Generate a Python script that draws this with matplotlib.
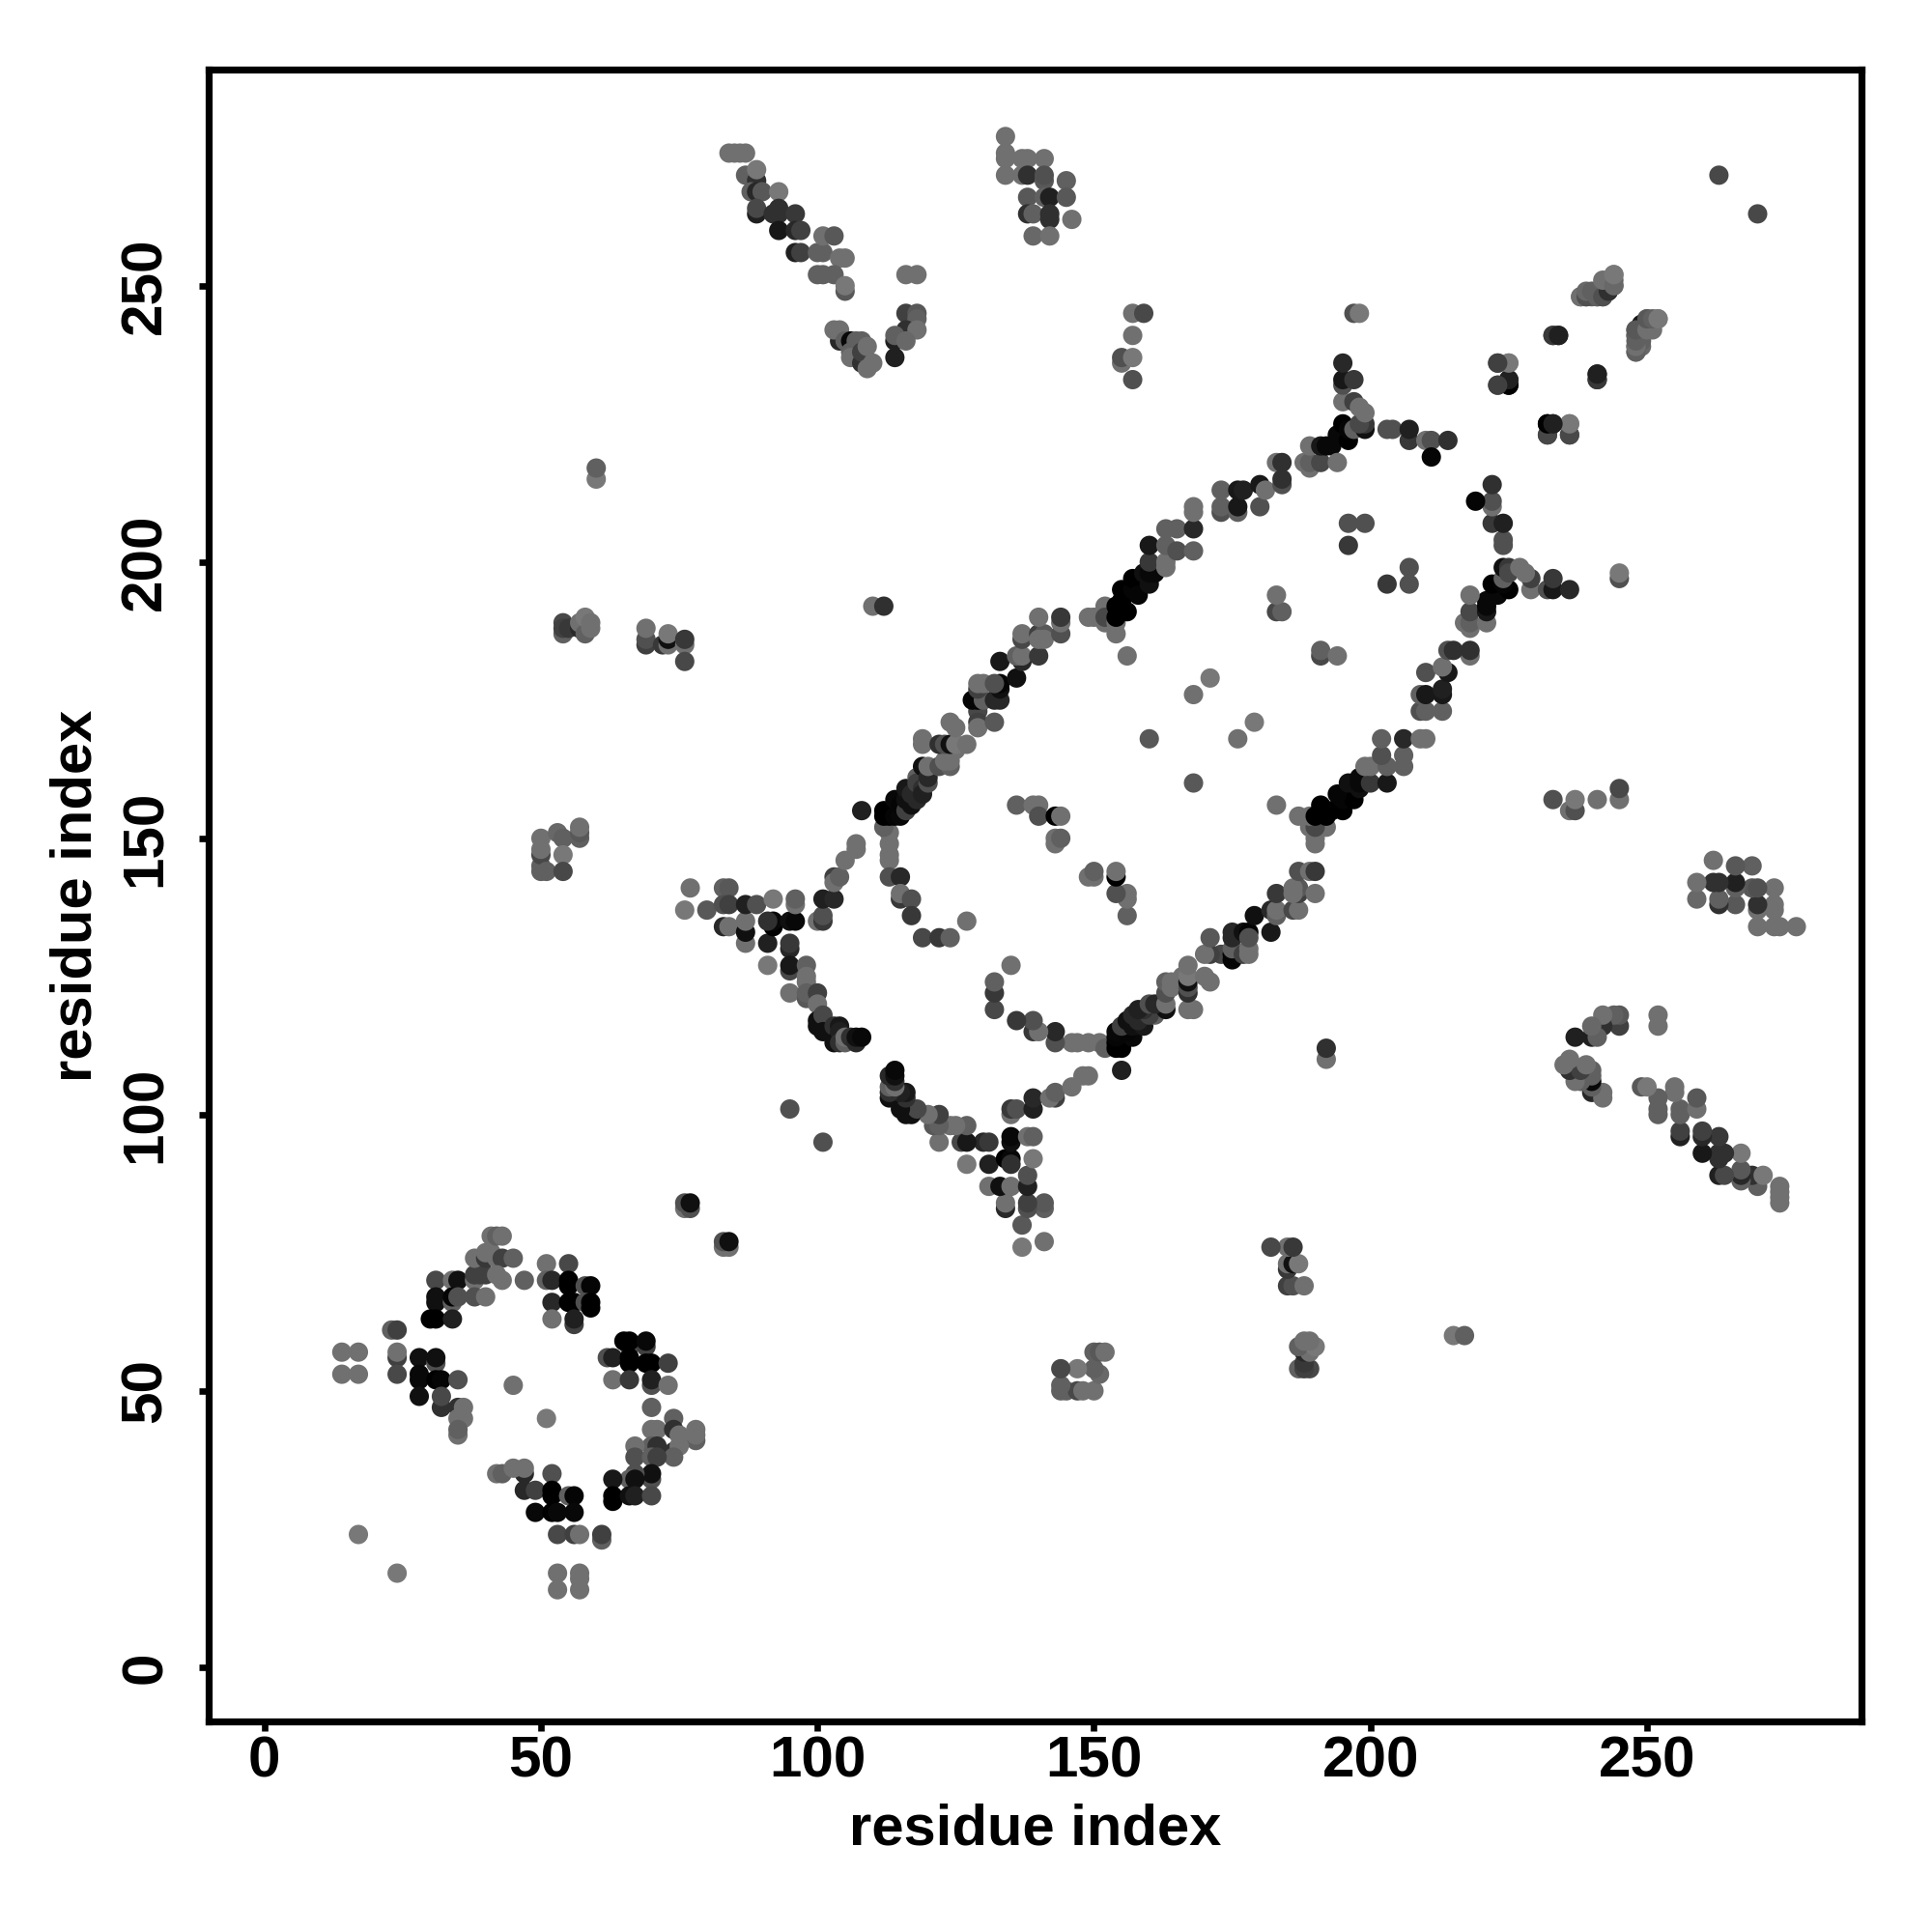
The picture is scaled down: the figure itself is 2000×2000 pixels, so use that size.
import matplotlib
matplotlib.use("Agg")
import matplotlib.pyplot as plt

# (residue i, residue j, grey level 0-255)
# N-terminal domain: listed on both sides of the diagonal
nterm_contacts = [
(14,57,0x70),(17,57,0x70),(14,53,0x70),(17,53,0x70),(24,56,0x40),(24,57,0x70),(24,53,0x48),(23,61,0x60),(24,61,0x40),
(28,56,0x10),(31,55,0x50),(31,56,0x10),(28,53,0x08),(28,52,0x08),(28,49,0x10),(31,52,0x00),(32,52,0x05),(35,52,0x50),
(32,47,0x30),(32,49,0x48),(35,47,0x30),(36,47,0x70),(35,45,0x70),(36,45,0x70),(35,42,0x70),(35,43,0x60),
(31,70,0x48),(34,70,0x70),(35,70,0x10),(31,66,0x10),(31,67,0x10),(34,66,0x60),(34,67,0x05),(35,67,0x50),(30,63,0x00),(31,63,0x00),(34,63,0x20),
(38,70,0x70),(38,71,0x40),(39,71,0x40),(40,71,0x40),(38,67,0x50),(40,67,0x70),(38,74,0x70),(40,74,0x38),(40,75,0x70),(41,75,0x70),
(42,74,0x70),(43,74,0x40),(45,74,0x60),(41,78,0x70),(42,78,0x60),(43,78,0x70),(42,71,0x70),(43,70,0x70),(47,70,0x60),
(51,73,0x70),(55,73,0x48),(51,70,0x60),(52,70,0x28),(55,70,0x00),(55,69,0x00),(58,69,0x50),(59,69,0x05),
(52,66,0x28),(55,66,0x00),(56,66,0x00),(58,66,0x50),(59,66,0x00),(59,65,0x00),(52,63,0x70),(56,62,0x40),(56,63,0x20),
(66,58,0x50),(69,58,0x40),(65,59,0x00),(66,59,0x00),(69,59,0x08),(62,56,0x50),(63,56,0x20),(66,56,0x00),(66,55,0x00),(69,55,0x00),(70,55,0x00),(73,55,0x40),
(63,52,0x70),(66,52,0x38),(70,51,0x50),(70,52,0x20),(73,51,0x70),(70,47,0x60),
(74,39,0x30),(74,45,0x60),(70,43,0x70),(71,43,0x70),(74,43,0x30),(78,41,0x60),(78,42,0x70),(78,43,0x70),(75,42,0x70),
(70,40,0x60),(71,40,0x30),(67,40,0x70),(75,40,0x70),(67,38,0x50),(70,38,0x60),(74,38,0x60),(71,38,0x40),
(70,34,0x50),(70,35,0x10),(67,35,0x50),(66,34,0x60),(67,34,0x10),(63,34,0x18),(63,30,0x00),(63,31,0x00),(66,31,0x10),(67,31,0x20),(70,31,0x48),
(42,35,0x70),(43,35,0x60),(47,35,0x28),(45,36,0x70),(47,36,0x70),(52,35,0x50),
(47,32,0x28),(49,32,0x40),(52,32,0x00),(52,31,0x00),(55,31,0x60),(56,31,0x05),(49,28,0x08),(52,28,0x00),(53,28,0x08),(56,28,0x08),
(53,24,0x48),(56,24,0x40),(57,24,0x70),(61,23,0x60),(61,24,0x40),(17,24,0x78),(24,17,0x78),
(53,17,0x70),(57,16,0x70),(57,17,0x70),(53,14,0x70),(57,14,0x70),(45,51,0x70),(51,45,0x78),
(83,76,0x70),(84,76,0x70),(83,77,0x50),(84,77,0x10),(76,83,0x70),(77,83,0x50),(76,84,0x50),(77,84,0x10),
]

# Everything below is listed above the diagonal and drawn on both sides
upper_band = [
(108,155,0x20),(112,152,0x60),(112,154,0x00),(112,155,0x00),(113,154,0x00),(113,155,0x00),(114,154,0x05),(115,154,0x08),
(114,157,0x08),(115,156,0x05),(116,155,0x40),(116,157,0x10),(117,156,0x10),(116,159,0x18),(117,158,0x28),(118,157,0x28),
(118,161,0x60),(118,160,0x40),(119,159,0x30),(119,158,0x20),(120,160,0x50),(119,163,0x10),(120,161,0x28),(120,163,0x70),
(122,163,0x50),(124,163,0x60),(123,164,0x70),(124,164,0x70),(125,166,0x70),(119,168,0x70),(119,167,0x70),(122,167,0x30),(123,167,0x50),(124,167,0x10),
(125,167,0x78),(127,167,0x70),(124,171,0x70),(125,170,0x70),(129,173,0x48),(129,171,0x40),(129,170,0x70),(132,171,0x58),
(129,175,0x00),(128,175,0x05),(130,175,0x60),(132,175,0x28),(133,175,0x28),(129,177,0x40),(129,178,0x70),(130,178,0x70),
(133,177,0x10),(133,178,0x05),(132,178,0x50),(136,179,0x10),(133,182,0x18),(137,182,0x28),(136,183,0x60),(137,183,0x70),(140,183,0x38),
(137,186,0x48),(137,187,0x70),(140,187,0x40),(141,187,0x58),(140,186,0x70),(141,186,0x70),(140,190,0x70),(144,187,0x50),(144,189,0x70),(144,190,0x38),
(149,190,0x70),(150,190,0x70),(152,192,0x70),(152,189,0x70),(152,190,0x48),(154,187,0x70),(154,189,0x70),(156,183,0x70),
(154,190,0x00),(154,192,0x00),(155,191,0x00),(156,191,0x00),(155,193,0x00),(155,195,0x00),(157,195,0x05),(157,197,0x00),(158,194,0x05),
(159,198,0x10),(160,196,0x10),(160,198,0x08),(161,198,0x08),(160,200,0x38),(160,203,0x18),(163,199,0x70),(163,200,0x70),(163,203,0x60),(165,202,0x50),(168,202,0x60),
(163,206,0x60),(165,206,0x60),(168,206,0x28),(168,209,0x70),(168,210,0x70),
(173,209,0x50),(173,210,0x60),(173,213,0x60),(176,209,0x60),(176,210,0x18),(176,213,0x18),(177,213,0x20),(180,210,0x50),(180,214,0x18),(181,213,0x70),
(183,218,0x70),(184,218,0x30),(184,214,0x50),(184,215,0x30),(188,218,0x70),(189,217,0x70),(189,218,0x60),(189,221,0x70),(191,218,0x48),(191,221,0x18),(192,221,0x08),(193,221,0x08),(194,218,0x70),
(194,223,0x08),(195,225,0x00),(196,222,0x00),(196,224,0x05),(195,229,0x70),(195,232,0x50),(195,233,0x18),(197,233,0x38),(195,236,0x28),
(197,224,0x60),(199,224,0x10),(199,225,0x38),(198,225,0x48),(197,229,0x40),(198,228,0x70),(199,227,0x70),
(203,224,0x50),(204,224,0x50),(207,222,0x38),(207,224,0x20),(210,222,0x70),(211,222,0x50),(211,219,0x05),(214,222,0x30),
]

inner_curve = [
(113,151,0x70),(113,149,0x70),(113,147,0x70),(113,146,0x70),(113,143,0x50),(115,143,0x28),(115,139,0x38),(115,140,0x70),(117,139,0x50),(117,136,0x38),
(119,132,0x48),(122,132,0x38),(124,132,0x60),(127,135,0x70),
(136,156,0x60),(139,156,0x70),(140,156,0x70),(140,154,0x50),(143,154,0x00),(144,154,0x70),(143,149,0x70),(143,150,0x70),(144,150,0x60),
]

central_contacts = [
(196,207,0x50),(199,207,0x50),(196,203,0x38),(183,191,0x48),(184,191,0x60),(183,194,0x70),
(171,179,0x78),(168,176,0x70),(160,168,0x58),(95,101,0x50),(110,192,0x70),(112,192,0x30),
(60,215,0x78),(60,217,0x60),(54,187,0x60),(54,189,0x48),(54,188,0x40),(55,188,0x38),(57,188,0x28),(57,189,0x70),(58,187,0x60),(58,190,0x78),(59,188,0x70),(59,189,0x70),
(69,185,0x40),(69,186,0x50),(69,188,0x70),(72,185,0x38),(73,185,0x70),(73,186,0x10),(73,187,0x78),(76,185,0x70),(76,186,0x38),(76,182,0x48),
(50,144,0x60),(50,145,0x60),(50,147,0x48),(50,148,0x70),(50,150,0x70),(51,144,0x60),(53,151,0x68),(54,150,0x60),(54,147,0x78),(54,144,0x48),
(57,150,0x60),(57,151,0x58),(57,152,0x70),
]

wing_contacts = [
(77,141,0x70),(76,137,0x78),(80,137,0x58),(83,141,0x60),(84,141,0x58),(83,134,0x28),(84,134,0x70),(83,138,0x50),(84,138,0x40),
(87,131,0x70),(87,133,0x10),(87,135,0x70),(87,138,0x20),(89,138,0x50),(91,131,0x20),(91,127,0x78),(92,134,0x00),(92,135,0x08),(91,135,0x30),(92,139,0x78),
(95,135,0x10),(96,135,0x08),(96,138,0x70),(96,139,0x60),(95,130,0x28),(95,131,0x38),(95,126,0x48),(95,127,0x18),(95,122,0x70),
(98,127,0x60),(98,125,0x70),(98,124,0x70),(98,121,0x58),(98,122,0x60),(100,122,0x40),(100,120,0x70),(100,116,0x10),(100,117,0x10),(101,118,0x48),(101,115,0x10),
(103,116,0x30),(104,116,0x18),(103,113,0x10),(104,115,0x20),(104,113,0x30),(105,113,0x60),(105,114,0x70),(106,114,0x30),(107,113,0x28),(107,114,0x10),(108,114,0x08),
(100,135,0x70),(101,135,0x38),(101,136,0x50),(101,139,0x20),(103,139,0x28),(103,143,0x40),(103,142,0x70),(104,143,0x60),(105,146,0x70),(107,148,0x70),(107,149,0x70),
]

distant_contacts = [
(84,274,0x70),(85,274,0x70),(86,274,0x70),(87,274,0x70),(87,270,0x60),(89,269,0x30),(89,271,0x78),(88,267,0x60),(89,267,0x28),(90,267,0x58),(93,267,0x78),
(89,263,0x20),(89,264,0x48),(92,263,0x30),(93,264,0x30),(93,263,0x30),(96,263,0x38),(93,260,0x18),(96,260,0x28),(97,260,0x40),(96,256,0x20),(97,256,0x40),
(100,256,0x60),(101,256,0x60),(101,259,0x70),(103,259,0x58),(104,255,0x70),(105,255,0x70),(100,252,0x60),(101,252,0x60),(103,252,0x60),(105,249,0x58),(105,250,0x78),
(116,252,0x70),(118,252,0x70),(116,245,0x40),(118,245,0x58),(118,244,0x60),(116,241,0x28),(116,242,0x30),(118,242,0x70),(114,240,0x20),(114,241,0x60),(116,240,0x68),(114,237,0x20),
(104,240,0x28),(103,242,0x70),(104,242,0x70),(105,240,0x60),(106,240,0x08),(107,240,0x60),(108,240,0x60),(106,238,0x60),(106,237,0x70),(108,236,0x30),(108,238,0x40),(109,239,0x70),(109,235,0x70),(110,236,0x70),
(134,277,0x70),(134,274,0x70),(134,273,0x70),(134,270,0x70),(137,273,0x70),(138,273,0x70),(141,273,0x70),(137,270,0x70),(138,270,0x30),(141,269,0x58),(141,270,0x50),(145,269,0x60),
(138,266,0x58),(141,266,0x60),(142,266,0x20),(145,266,0x58),(138,263,0x30),(139,263,0x60),(142,262,0x30),(142,263,0x30),(146,262,0x70),(139,259,0x68),(142,259,0x70),
(157,245,0x70),(159,245,0x48),(157,241,0x70),(155,236,0x70),(155,237,0x50),(157,237,0x78),(157,233,0x50),
(197,245,0x50),(198,245,0x78),
(238,248,0x60),(239,248,0x70),(240,248,0x60),(241,248,0x60),(243,249,0x18),(242,248,0x58),(242,250,0x70),(244,250,0x58),(244,251,0x60),(244,252,0x78),
(248,238,0x70),(248,239,0x50),(249,239,0x68),(249,240,0x60),(248,241,0x60),(248,242,0x50),(249,243,0x30),(251,242,0x70),(250,244,0x68),(252,244,0x78),
(233,241,0x38),(234,241,0x20),(223,236,0x48),(225,236,0x78),(223,232,0x48),(225,232,0x00),(225,233,0x20),(241,233,0x38),(241,234,0x20),
(232,225,0x00),(233,225,0x20),(236,225,0x78),(232,223,0x40),(236,223,0x40),(263,270,0x48),
]

tick_values = [0, 50, 100, 150, 200, 250]
axis_label = "residue index"

plt.rcParams["font.family"] = ["Liberation Sans", "DejaVu Sans"]
fig = plt.figure(figsize=(10, 10), dpi=200)
ax = fig.add_axes([215.6 / 2000, 1 - 1782.4 / 2000, (1927.4 - 215.6) / 2000, (1782.4 - 72.1) / 2000])

points = list(nterm_contacts)
for group in (wing_contacts, inner_curve, upper_band, central_contacts, distant_contacts):
    points += group
    points += [(j, i, g) for i, j, g in group]

xs = [p[0] for p in points]
ys = [p[1] for p in points]
cols = [(p[2] / 255, p[2] / 255, p[2] / 255) for p in points]
ax.scatter(xs, ys, s=52, c=cols, linewidths=0, clip_on=True)

ax.set_xlim(-10.15, 288.85)
ax.set_ylim(-9.9, 289.1)
ax.set_xticks(tick_values)
ax.set_yticks(tick_values)
ax.tick_params(axis="both", length=3.5, width=2.4, labelsize=21.7, direction="out")
ax.tick_params(axis="x", pad=1.5)
ax.tick_params(axis="y", pad=9.8)
for lab in ax.get_xticklabels():
    lab.set_fontweight("bold")
for lab in ax.get_yticklabels():
    lab.set_fontweight("bold")
    lab.set_rotation(90)
    lab.set_va("center")
for s in ax.spines.values():
    s.set_linewidth(2.6)
fig.text(840 / 1568, 1 - 1485 / 1568, axis_label, fontsize=21.5, fontweight="bold", ha="center", va="center")
fig.text(62 / 1568, 1 - 727 / 1568, axis_label, fontsize=21.5, fontweight="bold", ha="center", va="center", rotation=90)
fig.savefig("out.png", dpi=200, facecolor="white")
